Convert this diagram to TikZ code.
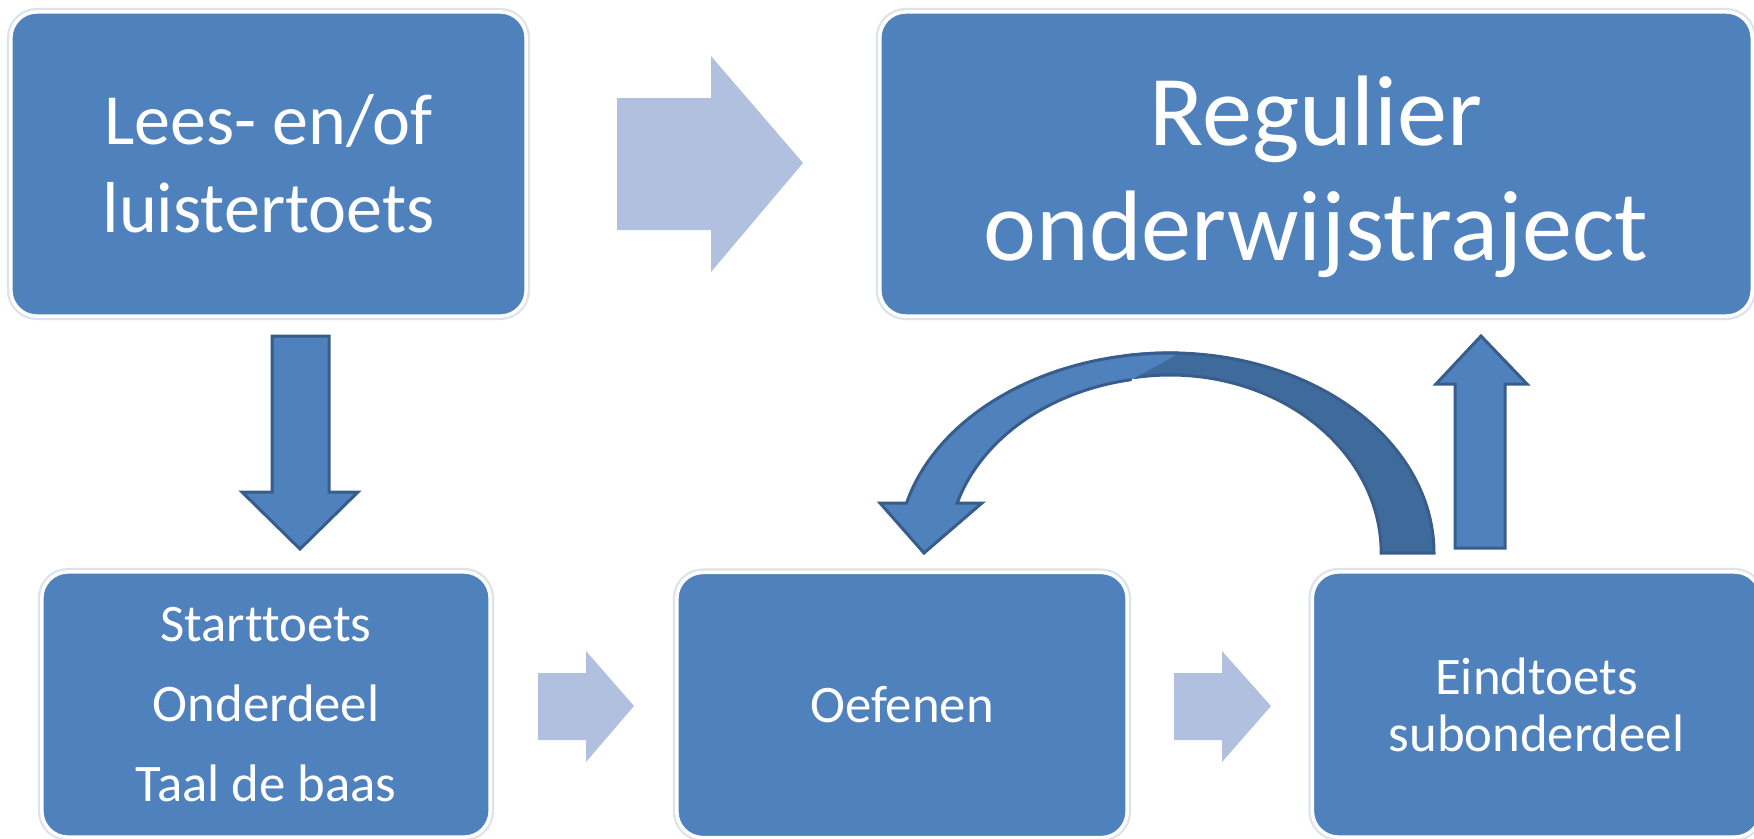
\documentclass[tikz,border=0pt]{standalone}
\usepackage{fontspec}
\setmainfont{Carlito}[Ligatures=NoCommon]
\usetikzlibrary{positioning}
\definecolor{boxblue}{HTML}{4F81BD}
\definecolor{arrowpale}{HTML}{B0C0DE}
\definecolor{arrowedge}{HTML}{385D8A}
\definecolor{arrowback}{HTML}{3F6A9C}
\definecolor{boxshade}{HTML}{DDE3EA}
\tikzset{
	stepbox/.style={draw=white, line width=0.035cm, fill=boxblue, rounded corners=0.26cm,
		text=white, align=center, inner sep=0pt,
		preaction={draw=boxshade, line width=0.08cm}},
	bigbox/.style={stepbox, minimum height=3.04cm},
	smallbox/.style={stepbox, minimum height=2.65cm, minimum width=4.48cm},
	palearrow/.style={fill=arrowpale},
	darkarrow/.style={fill=boxblue, draw=arrowedge, line width=0.03cm, line join=miter},
	arrowline/.style={draw=arrowedge, line width=0.03cm, line join=miter},
}
\begin{document}
\begin{tikzpicture}[x=0.01cm, y=-0.01cm]
	\useasboundingbox (0,0) rectangle (1754,838);
	\clip (0,0) rectangle (1754,838);
	\node[bigbox, minimum width=5.15cm, font=\fontsize{20.5}{25}\selectfont] (lees) at (268.5,164) {Lees- en/of\\luistertoets};
	\node[bigbox, minimum width=8.72cm, font=\fontsize{28.5}{32.5}\selectfont] (regulier) at (1316,164) {\rule{0pt}{27pt}Regulier\\onderwijstraject};
	\node[smallbox, font=\fontsize{15}{22.8}\selectfont] (start) at (266,704.5) {Starttoets\\Onderdeel\\Taal de baas};
	\node[smallbox, minimum width=4.5cm, font=\fontsize{15}{16.2}\selectfont] (oefenen) at (902,705) {Oefenen};
	\node[smallbox, font=\fontsize{15}{16.2}\selectfont] (eind) at (1536.5,704.5) {Eindtoets\\subonderdeel};
	%
	\fill[palearrow] (617,98) -- (711,98) -- (711,56) -- (803,163) -- (711,272) -- (711,230) -- (617,230) -- cycle;
	\fill[palearrow] (538,673) -- (586,673) -- (586,651) -- (634,706) -- (586,762) -- (586,740) -- (538,740) -- cycle;
	\fill[palearrow] (1174,673) -- (1222,673) -- (1222,651) -- (1271,706) -- (1222,762) -- (1222,740) -- (1174,740) -- cycle;
	%
	\filldraw[darkarrow] (272,336) -- (329,336) -- (329,492) -- (358,492) -- (300,549) -- (242,492) -- (272,492) -- cycle;
	\filldraw[darkarrow] (1455,548) -- (1505,548) -- (1505,384) -- (1527,384) -- (1481,336) -- (1436,384) -- (1455,384) -- cycle;
	%
	\fill[arrowback] (1434,553) arc[start angle=0, end angle=100, x radius=2.64cm, y radius=2cm]
		-- (1133.4,377.7) arc[start angle=100, end angle=0, x radius=2.11cm, y radius=1.78cm] -- cycle;
	\draw[arrowline] (1133.4,377.7) arc[start angle=100, end angle=0, x radius=2.11cm, y radius=1.78cm]
		-- (1434,553) arc[start angle=0, end angle=100, x radius=2.64cm, y radius=2cm];
	\fill[fill=boxblue] (1179.5,353.1) arc[start angle=88, end angle=165.5, x radius=2.72cm, y radius=2cm]
		-- (880,503) -- (924,553) -- (982,503) -- (957.2,503)
		arc[start angle=163.5, end angle=100, x radius=2.22cm, y radius=1.76cm] -- cycle;
	\draw[arrowline] (1179.5,353.1) arc[start angle=88, end angle=165.5, x radius=2.72cm, y radius=2cm]
		-- (880,503) -- (924,553) -- (982,503) -- (957.2,503)
		arc[start angle=163.5, end angle=100, x radius=2.22cm, y radius=1.76cm];
\end{tikzpicture}
\end{document}
